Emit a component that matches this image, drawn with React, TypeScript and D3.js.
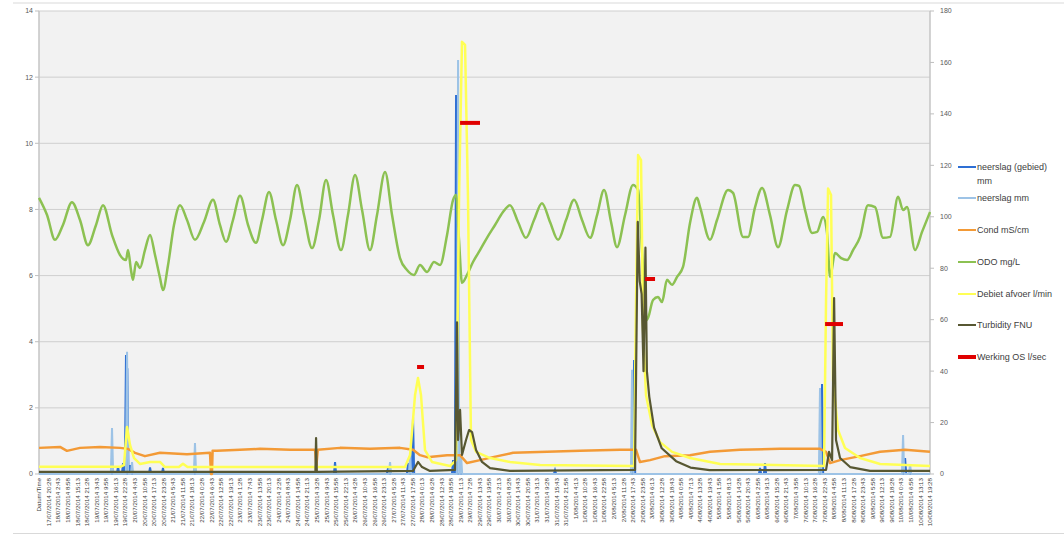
import React from 'react';
import * as d3 from 'd3';

type P = [number, number];

// category labels (first cell of the range is the header)
const categories = [
  'Datum/Time',
  '17/07/2014 20:28', '18/07/2014 2:43', '18/07/2014 8:58', '18/07/2014 15:13',
  '18/07/2014 21:28', '19/07/2014 3:43', '19/07/2014 9:58', '19/07/2014 16:13',
  '19/07/2014 22:28', '20/07/2014 4:43', '20/07/2014 10:58', '20/07/2014 17:13',
  '20/07/2014 23:28', '21/07/2014 5:43', '21/07/2014 11:58', '21/07/2014 18:13',
  '22/07/2014 0:28', '22/07/2014 6:43', '22/07/2014 12:58', '22/07/2014 19:13',
  '23/07/2014 1:28', '23/07/2014 7:43', '23/07/2014 13:58', '23/07/2014 20:13',
  '24/07/2014 2:28', '24/07/2014 8:43', '24/07/2014 14:58', '24/07/2014 21:13',
  '25/07/2014 3:28', '25/07/2014 9:43', '25/07/2014 15:58', '25/07/2014 22:13',
  '26/07/2014 4:28', '26/07/2014 10:43', '26/07/2014 16:58', '26/07/2014 23:13',
  '27/07/2014 5:28', '27/07/2014 11:43', '27/07/2014 17:58', '28/07/2014 0:13',
  '28/07/2014 6:28', '28/07/2014 12:43', '28/07/2014 18:58', '29/07/2014 1:13',
  '29/07/2014 7:28', '29/07/2014 13:43', '29/07/2014 19:58', '30/07/2014 2:13',
  '30/07/2014 8:28', '30/07/2014 14:43', '30/07/2014 20:58', '31/07/2014 3:13',
  '31/07/2014 9:28', '31/07/2014 15:43', '31/07/2014 21:58', '1/08/2014 4:13',
  '1/08/2014 10:28', '1/08/2014 16:43', '1/08/2014 22:58', '2/08/2014 5:13',
  '2/08/2014 11:28', '2/08/2014 17:43', '2/08/2014 23:58', '3/08/2014 6:13',
  '3/08/2014 12:28', '3/08/2014 18:43', '4/08/2014 0:58', '4/08/2014 7:13',
  '4/08/2014 13:28', '4/08/2014 19:43', '5/08/2014 1:58', '5/08/2014 8:13',
  '5/08/2014 14:28', '5/08/2014 20:43', '6/08/2014 2:58', '6/08/2014 9:13',
  '6/08/2014 15:28', '6/08/2014 21:43', '7/08/2014 3:58', '7/08/2014 10:13',
  '7/08/2014 16:28', '7/08/2014 22:43', '8/08/2014 4:58', '8/08/2014 11:13',
  '8/08/2014 17:28', '8/08/2014 23:43', '9/08/2014 5:58', '9/08/2014 12:13',
  '9/08/2014 18:28', '10/08/2014 0:43', '10/08/2014 6:58', '10/08/2014 13:13',
  '10/08/2014 19:28',
];

const leftTicks = [0, 2, 4, 6, 8, 10, 12, 14];
const rightTicks = [0, 20, 40, 60, 80, 100, 120, 140, 160, 180];

// [category position, value]
// neerslag (gebied) mm - spikes, left axis
const neerslagGebied: P[] = [
  [8.25, 0.24], [8.77, 0.33], [9.08, 3.6], [9.22, 3.2], [9.5, 0.27], [11.59, 0.2],
  [12.94, 0.18], [30.9, 0.36], [36.43, 0.18], [38.52, 0.33], [39.04, 1.72],
  [43.22, 0.42], [43.53, 11.46], [53.86, 0.12], [62.11, 3.45], [75.26, 0.18],
  [75.78, 0.33], [81.73, 2.72], [90.4, 0.48],
];

// neerslag mm - spikes, left axis
const neerslag: P[] = [
  [7.62, 1.39], [9.19, 3.7], [9.71, 0.36], [16.28, 0.94], [36.64, 0.36],
  [38.73, 0.57], [43.74, 12.52], [44.05, 0.6], [61.9, 3.15], [81.52, 2.6],
  [90.19, 1.18], [90.92, 0.3],
];

// Cond mS/cm - left axis
const cond: P[] = [
  [0, 0.79], [2.19, 0.82], [2.92, 0.7], [4.28, 0.79], [6.37, 0.82], [8.46, 0.79],
  [9.29, 0.76], [10.02, 0.64], [11.06, 0.54], [12.63, 0.64], [15.45, 0.6],
  [17.85, 0.64], [17.95, 0], [18.05, 0], [18.12, 0.7], [18.58, 0.7], [20.98, 0.73],
  [23.07, 0.76], [26.2, 0.73], [28.81, 0.73], [28.95, 0.25], [29.1, 0.73],
  [31.42, 0.79], [34.55, 0.76], [37.68, 0.79], [39.04, 0.73], [39.77, 0.57],
  [40.5, 0.51], [42.59, 0.57], [43.95, 0.57], [44.68, 0.33], [46.03, 0.42],
  [47.39, 0.51], [49.48, 0.64], [53.03, 0.67], [56.47, 0.7], [60.65, 0.73],
  [62.32, 0.73], [62.73, 0.36], [63.78, 0.42], [65.34, 0.54], [67.95, 0.57],
  [70.04, 0.67], [73.17, 0.73], [77.35, 0.76], [81.52, 0.76], [82.15, 0.67],
  [82.57, 0.33], [83.61, 0.42], [85.7, 0.54], [87.79, 0.67], [90.4, 0.73],
  [93, 0.67],
];

// ODO mg/L - left axis
const odo: P[] = [
  [0, 8.35], [0.84, 7.83], [1.67, 7.08], [2.5, 7.53], [3.44, 8.22], [4.28, 7.68],
  [5.11, 6.92], [5.95, 7.53], [6.68, 8.13], [7.62, 7.23], [8.46, 6.62], [9.08, 6.47],
  [9.29, 6.77], [9.6, 6.17], [9.81, 5.87], [10.13, 6.41], [10.54, 6.23], [11.06, 6.77],
  [11.59, 7.23], [12.11, 6.62], [12.63, 5.93], [12.94, 5.56], [13.47, 6.32],
  [14.09, 7.53], [14.72, 8.13], [15.45, 7.68], [16.28, 7.08], [17.22, 7.62],
  [18.16, 8.29], [18.89, 7.53], [19.52, 7.02], [20.25, 7.68], [20.98, 8.41],
  [21.82, 7.53], [22.65, 6.99], [23.28, 7.68], [24.01, 8.53], [24.74, 7.68],
  [25.47, 6.92], [26.2, 7.68], [26.93, 8.74], [27.66, 7.83], [28.5, 6.83],
  [29.23, 7.68], [29.96, 8.89], [30.69, 7.83], [31.52, 6.77], [32.25, 7.83],
  [32.99, 9.04], [33.72, 7.98], [34.55, 6.77], [35.28, 7.83], [36.12, 9.13],
  [36.85, 7.83], [37.68, 6.53], [38.41, 6.17], [39.14, 6.02], [39.77, 6.32],
  [40.5, 6.11], [41.23, 6.41], [41.86, 6.32], [42.59, 7.23], [43.22, 8.29],
  [43.53, 8.44], [43.84, 7.08], [44.15, 5.78], [44.68, 6.02], [45.3, 6.41],
  [46.03, 6.77], [46.76, 7.14], [47.6, 7.53], [48.43, 7.92], [49.16, 8.13],
  [50, 7.62], [50.83, 7.14], [51.67, 7.68], [52.5, 8.19], [53.34, 7.62],
  [54.18, 7.08], [55.01, 7.68], [55.85, 8.29], [56.68, 7.68], [57.52, 7.14],
  [58.25, 7.83], [58.98, 8.59], [59.71, 7.62], [60.33, 6.86], [61.17, 7.83],
  [62, 8.74], [62.53, 8.59], [62.94, 6.77], [63.47, 4.66], [64.09, 5.26],
  [64.61, 5.35], [65.03, 5.2], [65.55, 5.87], [66.08, 5.72], [66.6, 5.96],
  [67.22, 6.26], [67.95, 7.59], [68.68, 8.35], [69, 8.07], [70.04, 7.08],
  [70.77, 7.68], [71.92, 8.59], [72.44, 8.5], [73.49, 7.17], [74.01, 7.17],
  [74.74, 8.07], [75.47, 8.65], [76.3, 7.83], [77.14, 6.86], [78.08, 7.98],
  [78.91, 8.74], [79.33, 8.71], [79.96, 7.98], [80.69, 7.29], [81.21, 7.32],
  [81.84, 7.77], [82.25, 7.29], [82.57, 5.96], [83.09, 6.68], [83.72, 6.53],
  [84.34, 6.47], [84.97, 6.77], [85.7, 7.17], [86.53, 8.13], [87.27, 8.07],
  [88.1, 7.14], [88.83, 7.17], [89.67, 8.38], [90.19, 7.98], [90.6, 8.07],
  [91.44, 6.77], [92.17, 7.32], [93, 7.92],
];

// Debiet afvoer l/min - right axis
const debiet: P[] = [
  [0, 2.8], [8.46, 2.8], [8.87, 3.5], [9.19, 18.3], [9.5, 11.3], [9.92, 6.2],
  [10.54, 3.9], [11.59, 4.7], [12.63, 4.7], [13.15, 2.7], [14.6, 2.7], [15.03, 4.0],
  [15.5, 2.7], [38.2, 2.7], [38.73, 7.4], [39.25, 30.7], [39.56, 37.3], [39.87, 30.7],
  [40.29, 9.3], [41.02, 4.7], [42.9, 3.1], [43.53, 5.4], [43.84, 106.5],
  [44.15, 168], [44.47, 166.8], [44.78, 106.5], [45.09, 13.2], [45.62, 8.6],
  [47.08, 6.2], [49.16, 4.7], [52.3, 3.5], [62.11, 3.1], [62.32, 67.7], [62.53, 124],
  [62.84, 122], [63.05, 56], [63.36, 30.7], [63.99, 19], [64.82, 12.4], [66.08, 8.6],
  [67.95, 6.2], [71.09, 3.9], [81.94, 3.1], [82.15, 67.7], [82.36, 111],
  [82.67, 108.5], [82.88, 36.5], [83.4, 17.1], [84.13, 10.1], [85.7, 6.2],
  [87.79, 3.9], [93, 3.1],
];

// Turbidity FNU - right axis
const turbidity: P[] = [
  [0, 0.8], [28.85, 0.8], [28.92, 14], [29.0, 0.8], [39.04, 1.2], [39.56, 4.7],
  [39.98, 2.7], [40.81, 1.2], [43.42, 1.6], [43.63, 59], [43.74, 13.2], [43.95, 24.9],
  [44.15, 7.4], [44.57, 13.2], [44.89, 17.1], [45.2, 16.3], [45.62, 9.3], [46.24, 4.7],
  [47.08, 2.3], [49.16, 1.2], [62.21, 1.6], [62.5, 98], [62.7, 75], [62.9, 70],
  [63.1, 40], [63.3, 88], [63.45, 40], [63.7, 30], [64.2, 18], [65, 10], [66.5, 5],
  [68, 2.5], [70, 1.5], [82.15, 1.6], [82.46, 8.6], [82.78, 5.4], [82.99, 68.4],
  [83.19, 13.2], [83.61, 6.2], [84.66, 2.7], [86.74, 1.2], [93, 1.2],
];

// Werking OS l/sec - right axis, [from, to, value]
const werkingOS: [number, number, number][] = [
  [39.46, 40.19, 41.6], [43.95, 46.03, 136.5], [63.26, 64.3, 75.8], [82.05, 83.92, 58.3],
];

const legend = [
  { label: ['neerslag (gebied)', 'mm'], color: '#2e6fd4', width: 2, y: 167 },
  { label: ['neerslag mm'], color: '#9dc3e6', width: 2, y: 198 },
  { label: ['Cond mS/cm'], color: '#f39a36', width: 2, y: 230 },
  { label: ['ODO mg/L'], color: '#8cc152', width: 2, y: 262 },
  { label: ['Debiet afvoer l/min'], color: '#ffff55', width: 2, y: 294 },
  { label: ['Turbidity FNU'], color: '#575732', width: 2, y: 325 },
  { label: ['Werking OS l/sec'], color: '#e00000', width: 4, y: 357 },
];

const W = 1064;
const H = 535;
const left = 39;
const right = 930;
const top = 11;
const bottom = 474;

const spikes = (pts: P[], last: number): P[] => {
  const out: P[] = [[0, 0]];
  pts.forEach(([t, v]) => {
    out.push([t - 0.12, 0], [t, v], [t + 0.12, 0]);
  });
  out.push([last, 0]);
  return out;
};

const App = () => {
  const n = categories.length - 1;
  const x = d3.scaleLinear().domain([0, n]).range([left, right]);
  const yL = d3.scaleLinear().domain([0, 14]).range([bottom, top]);
  const yR = d3.scaleLinear().domain([0, 180]).range([bottom, top]);

  const lineL = d3.line<P>().x(d => x(d[0])).y(d => yL(d[1]));
  const smoothL = d3.line<P>().x(d => x(d[0])).y(d => yL(d[1])).curve(d3.curveMonotoneX);
  const lineR = d3.line<P>().x(d => x(d[0])).y(d => yR(d[1]));

  const font = '"Liberation Sans", Arial, sans-serif';

  return (
    <svg width={W} height={H} style={{ position: 'absolute', left: 0, top: 0, background: '#fff' }}>
      <line x1={13} x2={W} y1={3} y2={3} stroke="#d9d9d9" />
      <line x1={13} x2={W} y1={533.5} y2={533.5} stroke="#d9d9d9" />
      <rect x={left} y={top} width={right - left} height={bottom - top} fill="#f2f2f2" stroke="#d0d0d0" />

      {leftTicks.filter(t => t > 0 && t < 14).map(t => (
        <line key={'g' + t} x1={left} x2={right} y1={yL(t)} y2={yL(t)} stroke="#cfcfcf" strokeWidth={1} />
      ))}

      {/* left axis */}
      <line x1={left} x2={left} y1={top} y2={bottom} stroke="#bfbfbf" />
      {leftTicks.map(t => (
        <g key={'l' + t}>
          <line x1={left - 4} x2={left} y1={yL(t)} y2={yL(t)} stroke="#bfbfbf" />
          <text x={33} y={yL(t)} dy="0.35em" textAnchor="end" fontSize={7} fill="#595959" fontFamily={font}>{t}</text>
        </g>
      ))}

      {/* right axis */}
      <line x1={right} x2={right} y1={top} y2={bottom} stroke="#bfbfbf" />
      {rightTicks.map(t => (
        <g key={'r' + t}>
          <line x1={right} x2={right + 4} y1={yR(t)} y2={yR(t)} stroke="#bfbfbf" />
          <text x={940} y={yR(t)} dy="0.35em" fontSize={7} fill="#595959" fontFamily={font}>{t}</text>
        </g>
      ))}

      {/* category labels */}
      {categories.map((c, i) => (
        <text key={'c' + i} transform={`translate(${x(i) + 2.2},${bottom + 4}) rotate(-90)`}
          textAnchor="end" fontSize={6.2} fill="#404040" fontFamily={font}>{c}</text>
      ))}

      {/* series */}
      <path d={lineL(spikes(neerslagGebied, n)) || ''} fill="none" stroke="#2e6fd4" strokeWidth={2} />
      <path d={lineL(spikes(neerslag, n)) || ''} fill="none" stroke="#9dc3e6" strokeWidth={2} />
      <path d={lineL(cond) || ''} fill="none" stroke="#f39a36" strokeWidth={2.5} strokeLinejoin="round" />
      <path d={smoothL(odo) || ''} fill="none" stroke="#8cc152" strokeWidth={2.5} strokeLinejoin="round" />
      <path d={lineR(debiet) || ''} fill="none" stroke="#ffff55" strokeWidth={2.5} strokeLinejoin="round" />
      <path d={lineR(turbidity) || ''} fill="none" stroke="#575732" strokeWidth={2.2} strokeLinejoin="round" />
      {werkingOS.map(([a, b, v], i) => (
        <line key={'w' + i} x1={x(a)} x2={x(b)} y1={yR(v)} y2={yR(v)} stroke="#e00000" strokeWidth={4} />
      ))}

      {/* legend */}
      {legend.map(l => (
        <g key={l.label[0]}>
          <line x1={958} x2={976} y1={l.y} y2={l.y} stroke={l.color} strokeWidth={l.width} />
          {l.label.map((s, j) => (
            <text key={s} x={977} y={l.y + j * 14} dy="0.35em" fontSize={9} fill="#404040" fontFamily={font}>{s}</text>
          ))}
        </g>
      ))}
    </svg>
  );
};

export default App;
